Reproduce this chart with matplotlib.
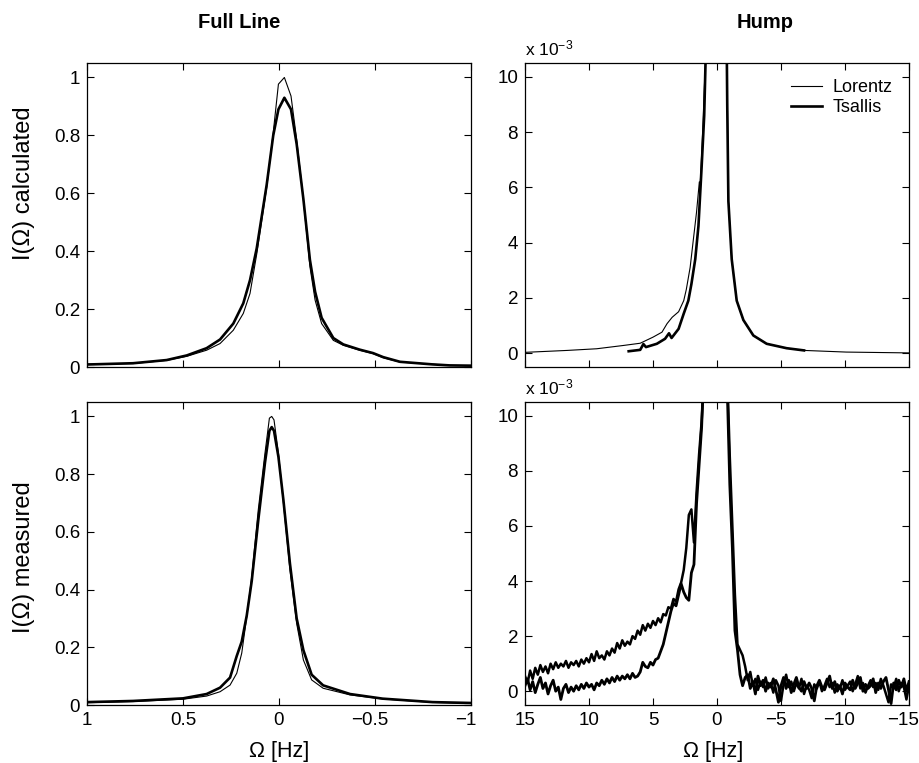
import numpy as np
import matplotlib
matplotlib.use('Agg')
import matplotlib.pyplot as plt
from matplotlib.ticker import FuncFormatter
from matplotlib.transforms import ScaledTranslation

plt.rcParams['font.family'] = ['Liberation Sans', 'DejaVu Sans']
plt.rcParams['mathtext.fontset'] = 'custom'
plt.rcParams['mathtext.rm'] = 'Liberation Sans'
plt.rcParams['mathtext.it'] = 'Liberation Sans:italic'

# --- calculated spectra (normalised), frequency in Hz ---
lor_calc_omega = [15, 11.7, 9.4, 7.3, 6.0, 5.0, 4.3, 3.9, 3.5, 3.0,
                  2.6, 2.4, 2.1, 1.85, 1.6, 1.38, 1.34, 1.12, 1.0, 0.76,
                  0.585, 0.48, 0.377, 0.307, 0.238, 0.186, 0.151, 0.116, 0.064, 0.03,
                  0.003, -0.028, -0.0625, -0.092, -0.127, -0.161, -0.188, -0.222, -0.283, -0.335,
                  -0.42, -0.49, -0.543, -0.63, -0.8, -0.89, -1.15, -1.54, -2.06, -2.84,
                  -3.88, -5.44, -6.8, -10.1, -15]
lor_calc = [0.00003, 0.0001, 0.00016, 0.00028, 0.00036, 0.00058, 0.00076, 0.00107, 0.0013, 0.0015,
            0.0019, 0.0023, 0.0031, 0.0041, 0.0051, 0.0062, 0.0058, 0.008, 0.0095, 0.012,
            0.023, 0.037, 0.058, 0.081, 0.127, 0.185, 0.254, 0.39, 0.62, 0.81,
            0.977, 1.0, 0.936, 0.786, 0.578, 0.347, 0.231, 0.15, 0.092, 0.075,
            0.058, 0.046, 0.032, 0.017, 0.0095, 0.0055, 0.0034, 0.0019, 0.00119, 0.00064,
            0.00034, 0.00018, 0.0001, 0.00004, 0.00001]

tsa_calc_omega = [6.9, 6.0, 5.75, 5.55, 4.7, 4.06, 3.75, 3.55, 3.0, 2.6,
                  2.24, 2.0, 1.7, 1.45, 1.2, 1.0, 0.76, 0.585, 0.48, 0.377,
                  0.307, 0.238, 0.186, 0.151, 0.116, 0.064, 0.03, 0.003, -0.028, -0.0625,
                  -0.092, -0.127, -0.161, -0.188, -0.222, -0.283, -0.335, -0.42, -0.49, -0.543,
                  -0.63, -0.8, -0.89, -1.15, -1.54, -2.06, -2.84, -3.88, -5.44, -6.8]
tsa_calc = [0.00007, 0.00012, 0.00033, 0.00022, 0.00034, 0.00052, 0.00072, 0.00055, 0.00088, 0.00143,
            0.0019, 0.0025, 0.0034, 0.0046, 0.00675, 0.0086, 0.013, 0.024, 0.04, 0.065,
            0.095, 0.15, 0.22, 0.30, 0.41, 0.63, 0.80, 0.89, 0.93, 0.89,
            0.77, 0.58, 0.37, 0.26, 0.17, 0.10, 0.078, 0.06, 0.048, 0.034,
            0.018, 0.009, 0.0055, 0.0034, 0.0019, 0.0012, 0.00064, 0.00034, 0.00018, 0.0001]

# --- measured spectra, full line ---
meas_full_omega = [1.0, 0.76, 0.5, 0.377, 0.307, 0.255, 0.22, 0.194, 0.168, 0.142,
                   0.108, 0.073, 0.05, 0.038, 0.026, 0.003, -0.023, -0.057, -0.092, -0.127,
                   -0.17, -0.23, -0.37, -0.54, -0.8, -1.0]
lor_meas_full = [0.008, 0.012, 0.02, 0.031, 0.046, 0.069, 0.11, 0.18, 0.306, 0.445,
                 0.676, 0.873, 0.994, 1.0, 0.988, 0.873, 0.70, 0.468, 0.283, 0.156,
                 0.087, 0.058, 0.035, 0.021, 0.009, 0.006]
tsa_meas_full = [0.01, 0.014, 0.023, 0.038, 0.06, 0.095, 0.17, 0.22, 0.31, 0.43,
                 0.64, 0.84, 0.95, 0.963, 0.95, 0.86, 0.71, 0.49, 0.30, 0.19,
                 0.105, 0.068, 0.038, 0.022, 0.01, 0.007]

# --- measured spectra, hump (units of 1e-3), sampled every 0.2 Hz from 15 to -15 ---
hump_omega = np.linspace(15, -15, 151)
lor_meas_hump = [
    0.55, 0.30, 0.75, 0.45, 0.85, 0.60, 0.95, 0.70, 0.90, 0.65, 1.00,
    0.80, 1.05, 0.85, 1.00, 0.90, 1.10, 0.85, 1.05, 0.95, 1.10,
    0.90, 1.15, 1.00, 1.20, 1.05, 1.35, 1.10, 1.45, 1.20, 1.30,
    1.15, 1.45, 1.30, 1.55, 1.40, 1.75, 1.55, 1.85, 1.65, 1.80,
    1.70, 2.00, 1.90, 2.20, 2.05, 2.40, 2.20, 2.45, 2.30, 2.55,
    2.40, 2.65, 2.50, 2.80, 2.75, 3.05, 3.00, 3.35, 3.25, 3.70,
    3.95, 4.40, 5.20, 6.40, 6.60, 5.40, 7.20, 8.60, 9.80, 11.5,
    35, 120, 380, 760, 1000, 800, 340, 85, 11.5,
    8.5, 6.0, 3.5, 1.7, 1.5, 1.3, 0.9,
    0.40, 0.70, 0.20, 0.45, 0.05, 0.35, 0.15, 0.50,
    0.10, 0.30, -0.05, 0.40, 0.20, -0.35, 0.25, 0.60,
    0.15, 0.35, 0.00, 0.30, 0.10, 0.45, -0.10, 0.20,
    0.05, -0.25, 0.25, 0.10, 0.35, 0.00, 0.20, 0.45,
    0.15, 0.30, -0.05, 0.25, 0.10, 0.40, 0.05, 0.20,
    0.35, 0.00, 0.25, 0.55, 0.10, 0.30, -0.05, 0.20,
    0.40, 0.15, 0.30, 0.05, 0.45, 0.20, -0.10, -0.40,
    0.25, 0.10, 0.45, 0.00, 0.30, 0.15, -0.30, 0.20]
tsa_meas_hump = [
    0.20, 0.45, 0.05, 0.35, -0.05, 0.25, 0.50, 0.10, 0.30, -0.10, 0.20,
    0.40, 0.00, 0.15, -0.30, 0.10, 0.25, -0.05, 0.15, 0.00, 0.20,
    0.05, 0.25, 0.10, 0.30, 0.15, 0.25, 0.05, 0.30, 0.20, 0.40,
    0.25, 0.45, 0.30, 0.50, 0.35, 0.55, 0.40, 0.55, 0.45, 0.60,
    0.45, 0.65, 0.50, 0.55, 0.70, 1.05, 0.90, 0.85, 1.05, 0.95,
    1.15, 1.20, 1.45, 1.70, 2.10, 2.50, 2.90, 3.20, 3.10, 3.50,
    3.90, 3.60, 3.40, 3.30, 4.30, 4.60, 6.80, 8.20, 9.60, 12.0,
    40, 130, 380, 780, 1000, 780, 330, 80, 11.0,
    7.5, 5.2, 2.2, 1.5, 0.6, 0.2, 0.5,
    0.60, 0.10, 0.35, -0.10, 0.55, 0.20, 0.40, 0.00,
    0.30, 0.15, 0.45, 0.05, -0.40, 0.20, 0.50, 0.10,
    0.40, -0.05, 0.25, 0.50, 0.15, 0.00, 0.35, 0.10,
    0.30, 0.10, -0.35, 0.20, 0.40, 0.15, 0.05, 0.30,
    0.55, 0.10, 0.35, 0.00, 0.20, -0.10, 0.30, 0.15,
    0.05, 0.40, 0.10, 0.30, 0.50, 0.00, 0.25, 0.10,
    0.20, 0.45, -0.05, 0.30, 0.10, 0.35, 0.50, 0.05,
    -0.45, 0.30, 0.05, 0.40, 0.15, 0.45, 0.00, 0.35]
assert len(lor_meas_hump) == len(hump_omega) == len(tsa_meas_hump)

THIN = 0.8
THICK = 1.9
W, H = 919, 763


def minus_fmt(v, pos):
    return ('%g' % v).replace('-', '\u2212')


def style(ax, xlim, ylim, xticks, yticks, xlabels=True):
    ax.set_xlim(*xlim)
    ax.set_ylim(*ylim)
    ax.set_xticks(xticks)
    ax.set_yticks(yticks)
    ax.xaxis.set_major_formatter(FuncFormatter(minus_fmt))
    ax.yaxis.set_major_formatter(FuncFormatter(minus_fmt))
    ax.tick_params(direction='in', top=True, right=True, length=5, width=0.8,
                   labelsize=13.5, pad=5, labelbottom=xlabels)
    for sp in ax.spines.values():
        sp.set_linewidth(0.9)
    # negative x labels sit a little left of their ticks, as in the original
    shift = ScaledTranslation(-5.5 / 100, 0, ax.figure.dpi_scale_trans)
    for lab, v in zip(ax.get_xticklabels(), xticks):
        if v < 0:
            lab.set_transform(lab.get_transform() + shift)


fig = plt.figure(figsize=(W / 100, H / 100), dpi=100)

ax_tl = fig.add_axes([87 / W, 1 - 367 / H, 384 / W, 304 / H])
ax_tr = fig.add_axes([525 / W, 1 - 367 / H, 384 / W, 304 / H])
ax_bl = fig.add_axes([87 / W, 1 - 705 / H, 384 / W, 303 / H])
ax_br = fig.add_axes([525 / W, 1 - 705 / H, 384 / W, 303 / H])

left_xt = [1, 0.5, 0, -0.5, -1]
left_yt = [0, 0.2, 0.4, 0.6, 0.8, 1]
right_xt = [15, 10, 5, 0, -5, -10, -15]
right_yt = [0, 2, 4, 6, 8, 10]

# full line, calculated
ax_tl.plot(lor_calc_omega, lor_calc, color='black', lw=THIN)
ax_tl.plot(tsa_calc_omega, tsa_calc, color='black', lw=THICK)
style(ax_tl, (1, -1), (0, 1.05), left_xt, left_yt, xlabels=False)

# hump, calculated
ax_tr.plot(lor_calc_omega, np.array(lor_calc) * 1e3, color='black', lw=THIN, label='Lorentz')
ax_tr.plot(tsa_calc_omega, np.array(tsa_calc) * 1e3, color='black', lw=THICK, label='Tsallis')
style(ax_tr, (15, -15), (-0.5, 10.5), right_xt, right_yt, xlabels=False)
ax_tr.legend(loc='upper right', frameon=False, fontsize=13, handlelength=1.7,
             handletextpad=0.6, labelspacing=0.15, borderaxespad=0.5)

# full line, measured
ax_bl.plot(meas_full_omega, lor_meas_full, color='black', lw=THIN)
ax_bl.plot(meas_full_omega, tsa_meas_full, color='black', lw=THICK)
style(ax_bl, (1, -1), (0, 1.05), left_xt, left_yt)

# hump, measured (noisy, drawn heavy like the original)
ax_br.plot(hump_omega, lor_meas_hump, color='black', lw=1.8)
ax_br.plot(hump_omega, tsa_meas_hump, color='black', lw=2.0)
style(ax_br, (15, -15), (-0.5, 10.5), right_xt, right_yt)

for ax in (ax_tr, ax_br):
    ax.text(0, 1.015, r'x 10$^{\mathrm{-3}}$', transform=ax.transAxes,
            ha='left', va='bottom', fontsize=12.5)

fig.text(239 / W, 1 - 22 / H, 'Full Line', ha='center', va='center',
         fontsize=14.5, fontweight='bold')
fig.text(765 / W, 1 - 22 / H, 'Hump', ha='center', va='center',
         fontsize=14.5, fontweight='bold')

fig.text(24 / W, 1 - 183 / H, 'I(\u03a9) calculated', rotation=90,
         ha='center', va='center', fontsize=17)
fig.text(24 / W, 1 - 557 / H, 'I(\u03a9) measured', rotation=90,
         ha='center', va='center', fontsize=17)

fig.text(279 / W, 1 - 751 / H, '\u03a9 [Hz]', ha='center', va='center', fontsize=15.5)
fig.text(713 / W, 1 - 751 / H, '\u03a9 [Hz]', ha='center', va='center', fontsize=15.5)

fig.savefig('out.png', dpi=100)
